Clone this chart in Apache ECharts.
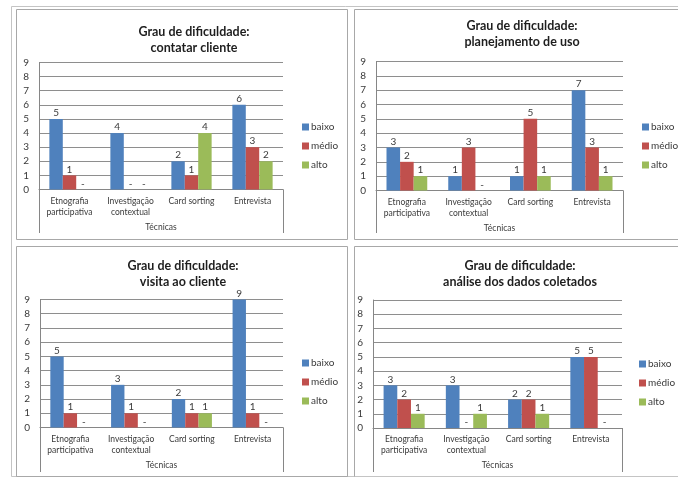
<!DOCTYPE html>
<html>
<head>
<meta charset="utf-8">
<script src="https://cdn.jsdelivr.net/npm/echarts@6/dist/echarts.min.js"></script>
<style>
  html, body { margin: 0; padding: 0; background: #ffffff; }
  #chart { width: 678px; height: 480px; }
</style>
</head>
<body>
<div id="chart"></div>
<script>
// Categories and series shared by the four small charts
const categories = ['Etnografia\nparticipativa', 'Investigação\ncontextual', 'Card sorting', 'Entrevista'];
const groupName = 'Técnicas';
const seriesNames = ['baixo', 'médio', 'alto'];
const chartTitles = [
  'Grau de dificuldade:\ncontatar cliente',
  'Grau de dificuldade:\nplanejamento de uso',
  'Grau de dificuldade:\nvisita ao cliente',
  'Grau de dificuldade:\nanálise dos dados coletados'
];

// Counts per technique: [baixo, médio, alto]
const contatarCliente = [[5, 4, 2, 6], [1, 0, 1, 3], [0, 0, 4, 2]];
const planejamentoUso = [[3, 1, 1, 7], [2, 3, 5, 3], [1, 0, 1, 1]];
const visitaCliente   = [[5, 3, 2, 9], [1, 1, 1, 1], [0, 0, 1, 0]];
const analiseDados    = [[3, 3, 2, 5], [2, 0, 2, 5], [1, 1, 1, 0]];

// Value axis range
const yMin = 0, yMax = 9, yStep = 1;

const colors = ['#4F81BD', '#C0504D', '#9BBB59'];
const FONT = 'Lato, "Open Sans", sans-serif';
const TEXT = '#3a3a3a';
const AXIS = '#868686';

// Placement of each small chart on the page
const panels = [
  { data: contatarCliente, title: chartTitles[0], grid: { left: 39, top: 62.5, width: 244, height: 127 },
    titleX: 194, titleY: 39.5, legendX: 302, legendY: 127, frameBottom: 233 },
  { data: planejamentoUso, title: chartTitles[1], grid: { left: 376, top: 61.5, width: 247, height: 129 },
    titleX: 522, titleY: 34, legendX: 642, legendY: 127, frameBottom: 233 },
  { data: visitaCliente, title: chartTitles[2], grid: { left: 40, top: 299.5, width: 243, height: 128 },
    titleX: 183, titleY: 273.5, legendX: 302, legendY: 363, frameBottom: 472 },
  { data: analiseDados, title: chartTitles[3], grid: { left: 373, top: 300, width: 249, height: 128 },
    titleX: 520, titleY: 273.5, legendX: 639, legendY: 364, frameBottom: 472 }
];

const grids = [], xAxes = [], yAxes = [], series = [], legends = [], graphics = [];

// Outer frame and panel borders
const borderStyle = { stroke: '#a8a8a8', lineWidth: 1, fill: null };
graphics.push({ type: 'polyline', shape: { points: [[690, 6.5], [11.5, 6.5], [11.5, 476.5], [690, 476.5]] },
  style: { stroke: '#c4c4c4', lineWidth: 1, fill: null }, silent: true });
graphics.push({ type: 'rect', shape: { x: 16.5, y: 9.5, width: 331, height: 230 }, style: borderStyle, silent: true });
graphics.push({ type: 'polyline', shape: { points: [[690, 9.5], [354.5, 9.5], [354.5, 239.5], [690, 239.5]] }, style: borderStyle, silent: true });
graphics.push({ type: 'rect', shape: { x: 16.5, y: 246.5, width: 331, height: 230 }, style: borderStyle, silent: true });
graphics.push({ type: 'polyline', shape: { points: [[690, 246.5], [354.5, 246.5], [354.5, 476.5]] }, style: borderStyle, silent: true });

panels.forEach((p, i) => {
  grids.push({ left: p.grid.left, top: p.grid.top, width: p.grid.width, height: p.grid.height,
    containLabel: false, outerBoundsMode: 'none' });

  xAxes.push({
    type: 'category', gridIndex: i, data: categories,
    axisLine: { show: true, lineStyle: { color: AXIS, width: 1 } },
    axisTick: { show: false },
    splitLine: { show: false },
    axisLabel: { interval: 0, fontFamily: FONT, fontSize: 8.5, lineHeight: 11, color: TEXT, margin: 6 },
    name: groupName, nameLocation: 'middle', nameGap: 33, nameMoveOverlap: false,
    nameTextStyle: { fontFamily: FONT, fontSize: 8.5, color: TEXT }
  });

  yAxes.push({
    type: 'value', gridIndex: i, min: yMin, max: yMax, interval: yStep,
    axisLine: { show: true, lineStyle: { color: AXIS, width: 1 } },
    axisTick: { show: false },
    splitLine: { show: true, lineStyle: { color: '#8e8e8e', width: 1 } },
    axisLabel: { fontFamily: FONT, fontSize: 10, color: TEXT, margin: 10 }
  });

  seriesNames.forEach((name, j) => {
    series.push({
      type: 'bar', name: name, xAxisIndex: i, yAxisIndex: i, data: p.data[j],
      barGap: '0%', barCategoryGap: '34%',
      itemStyle: { color: colors[j] },
      label: {
        show: true, position: 'top', distance: 1,
        fontFamily: FONT, fontSize: 10, color: TEXT,
        formatter: (d) => (d.value === 0 ? '-' : String(d.value))
      }
    });
  });

  legends.push({
    orient: 'vertical', left: p.legendX, top: p.legendY - 6, padding: 0,
    itemWidth: 7, itemHeight: 7, itemGap: 7, icon: 'rect',
    data: seriesNames,
    textStyle: { fontFamily: FONT, fontSize: 10, lineHeight: 12, color: TEXT, padding: [0, 0, 0, -3] }
  });

  // Chart heading
  graphics.push({
    type: 'text', x: p.titleX, y: p.titleY, silent: true,
    style: { text: p.title, fontFamily: FONT, fontWeight: 'bold', fontSize: 12.5, lineHeight: 16,
      fill: '#1e1e1e', align: 'center', verticalAlign: 'middle' }
  });

  // Divider lines bounding the category label band
  const gl = p.grid.left + 0.5, gr = p.grid.left + p.grid.width + 0.5, gb = p.grid.top + p.grid.height;
  graphics.push({ type: 'line', shape: { x1: gl, y1: gb, x2: gl, y2: p.frameBottom }, style: { stroke: AXIS, lineWidth: 1 }, silent: true });
  graphics.push({ type: 'line', shape: { x1: gr, y1: gb, x2: gr, y2: p.frameBottom }, style: { stroke: AXIS, lineWidth: 1 }, silent: true });
});

const chart = echarts.init(document.getElementById('chart'), null, { renderer: 'canvas' });
chart.setOption({
  animation: false,
  backgroundColor: '#ffffff',
  textStyle: { fontFamily: FONT },
  grid: grids,
  xAxis: xAxes,
  yAxis: yAxes,
  legend: legends,
  series: series,
  graphic: graphics
});
</script>
</body>
</html>
